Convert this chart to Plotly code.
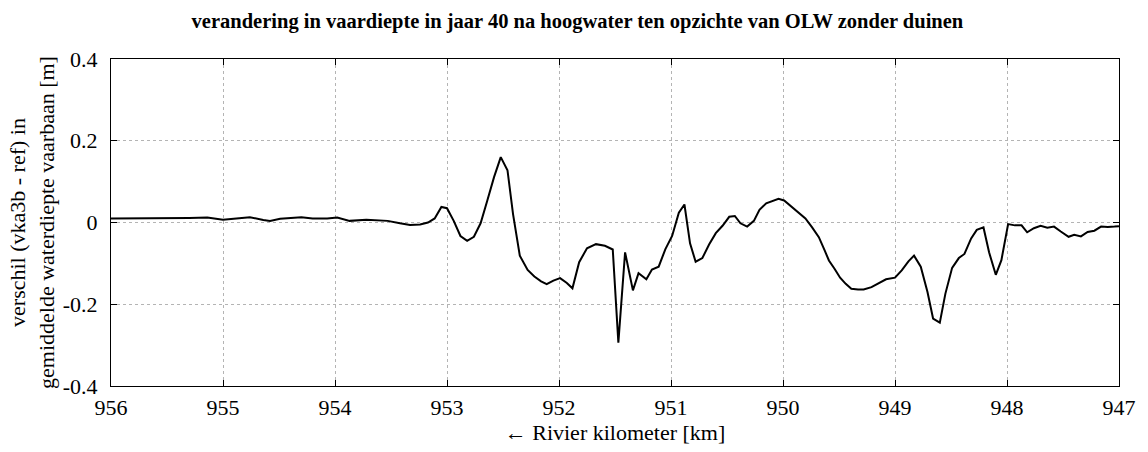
import plotly.graph_objects as go

# River kilometre (axis runs downstream, right to left) and depth difference [m]
km = [
    956.00, 955.50, 955.30, 955.14, 955.00, 954.88, 954.76, 954.64, 954.58, 954.49,
    954.30, 954.20, 954.07, 953.98, 953.87, 953.72, 953.60, 953.53, 953.42, 953.33,
    953.24, 953.17, 953.11, 953.05, 953.00, 952.94, 952.88, 952.82, 952.76, 952.70,
    952.64, 952.58, 952.52, 952.46, 952.41, 952.35, 952.28, 952.22, 952.16, 952.11,
    952.05, 951.99, 951.93, 951.88, 951.82, 951.75, 951.67, 951.59, 951.52, 951.47,
    951.41, 951.34, 951.29, 951.22, 951.17, 951.11, 951.05, 950.99, 950.93, 950.88,
    950.83, 950.78, 950.72, 950.66, 950.60, 950.54, 950.48, 950.43, 950.38, 950.32,
    950.26, 950.21, 950.15, 950.09, 950.04, 949.99, 949.93, 949.86, 949.80, 949.74,
    949.68, 949.63, 949.59, 949.54, 949.49, 949.44, 949.39, 949.33, 949.28, 949.21,
    949.14, 949.08, 949.00, 948.94, 948.88, 948.83, 948.77, 948.71, 948.66, 948.60,
    948.55, 948.49, 948.43, 948.38, 948.32, 948.27, 948.21, 948.16, 948.10, 948.05,
    947.99, 947.93, 947.87, 947.82, 947.76, 947.70, 947.64, 947.58, 947.52, 947.45,
    947.40, 947.34, 947.28, 947.22, 947.16, 947.10, 947.04, 947.00,
]
verschil = [
    0.010, 0.010, 0.011, 0.012, 0.007, 0.010, 0.013, 0.006, 0.004, 0.009,
    0.013, 0.010, 0.010, 0.012, 0.004, 0.007, 0.004, 0.004, -0.002, -0.006,
    -0.005, 0.000, 0.010, 0.038, 0.035, 0.004, -0.033, -0.045, -0.035, -0.002,
    0.054, 0.111, 0.160, 0.128, 0.020, -0.081, -0.116, -0.132, -0.144, -0.151,
    -0.142, -0.136, -0.148, -0.161, -0.097, -0.063, -0.053, -0.057, -0.066, -0.294,
    -0.073, -0.166, -0.124, -0.139, -0.115, -0.108, -0.065, -0.033, 0.024, 0.044,
    -0.051, -0.096, -0.087, -0.054, -0.026, -0.008, 0.014, 0.016, -0.002, -0.010,
    0.004, 0.031, 0.047, 0.054, 0.058, 0.054, 0.040, 0.026, 0.010, -0.012,
    -0.036, -0.067, -0.093, -0.113, -0.135, -0.150, -0.162, -0.164, -0.164, -0.158,
    -0.147, -0.139, -0.135, -0.117, -0.095, -0.081, -0.108, -0.170, -0.235, -0.245,
    -0.174, -0.111, -0.087, -0.077, -0.039, -0.018, -0.012, -0.073, -0.128, -0.092,
    -0.004, -0.007, -0.007, -0.024, -0.014, -0.008, -0.013, -0.010, -0.022, -0.035,
    -0.030, -0.034, -0.023, -0.020, -0.010, -0.011, -0.010, -0.009,
]

x_ticks = [956, 955, 954, 953, 952, 951, 950, 949, 948, 947]
y_ticks = [0.4, 0.2, 0, -0.2, -0.4]
y_tick_text = ["0.4", "0.2", "0", "-0.2", "-0.4"]

serif = "Liberation Serif, Times New Roman, serif"

fig = go.Figure()
fig.add_trace(go.Scatter(
    x=km, y=verschil, mode="lines",
    line=dict(color="black", width=2),
    showlegend=False,
))

axis_common = dict(
    showline=True, linecolor="black", linewidth=1, mirror="ticks",
    ticks="inside", ticklen=6, tickcolor="black",
    showgrid=True, gridcolor="#b4b4b4", griddash="dot", gridwidth=1,
    zeroline=False,
    tickfont=dict(family=serif, size=22, color="black"),
)

fig.update_layout(
    width=1148, height=452,
    margin=dict(l=111, r=28, t=59, b=62),
    paper_bgcolor="white", plot_bgcolor="white",
    title=dict(
        text="<b>verandering in vaardiepte in jaar 40 na hoogwater ten opzichte van OLW zonder duinen</b>",
        x=0.503, xanchor="center", xref="container", y=0.955, yanchor="middle",
        font=dict(family=serif, size=20.5, color="black"),
    ),
    xaxis=dict(
        range=[956, 947], tickvals=x_ticks, ticktext=[str(v) for v in x_ticks],
        ticklabelstandoff=2,
        title=dict(text="← Rivier kilometer [km]", standoff=4,
                   font=dict(family=serif, size=22, color="black")),
        **axis_common,
    ),
    yaxis=dict(
        range=[-0.4, 0.4], tickvals=y_ticks, ticktext=y_tick_text,
        ticklabelstandoff=8,
        title=dict(text="verschil (vka3b - ref) in<br>gemiddelde waterdiepte vaarbaan [m]",
                   standoff=2, font=dict(family=serif, size=22, color="black")),
        **axis_common,
    ),
)

fig.write_html("out.html")
